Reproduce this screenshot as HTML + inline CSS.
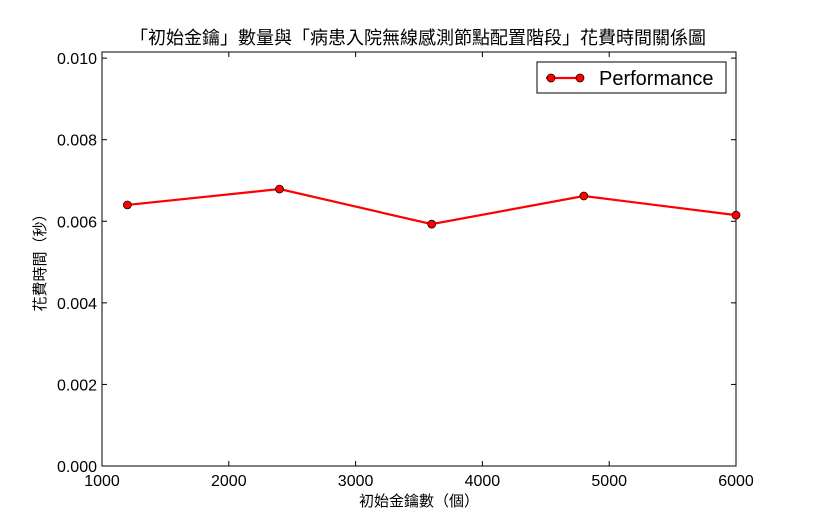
<!DOCTYPE html>
<html><head><meta charset="utf-8"><style>
body{margin:0;background:#fff;}
svg{display:block;font-family:"Liberation Sans","Noto Sans CJK TC",sans-serif;}
</style></head><body>
<svg id="chart" width="817" height="517"></svg>
<script>
const categories=[1200,2400,3600,4800,6000];
const values=[0.0064,0.00679,0.00593,0.00662,0.00615];
const xTicks=[1000,2000,3000,4000,5000,6000];
const yTicks=[0,0.002,0.004,0.006,0.008,0.010];
const yTickLabels=["0.000","0.002","0.004","0.006","0.008","0.010"];
const L=102,R=736,T=52,B=466,xMin=1000,xMax=6000,yMax=0.01015;
const xs=v=>L+(v-xMin)/(xMax-xMin)*(R-L);
const ys=v=>B-v/yMax*(B-T);
const svg=document.getElementById('chart');
const NS='http://www.w3.org/2000/svg';
function mk(t,a,p){const e=document.createElementNS(NS,t);for(const k in a)e.setAttribute(k,a[k]);(p||svg).appendChild(e);return e;}
let e;
e=mk('rect',{x:L,y:T,width:R-L,height:B-T,fill:'#fff',stroke:'#000','stroke-width':1});


xTicks.forEach(v=>{const x=xs(v);
mk('line',{x1:x,x2:x,y1:B,y2:B-5,stroke:'#000'});mk('line',{x1:x,x2:x,y1:T,y2:T+5,stroke:'#000'});
const t=mk('text',{x:x,y:B+20,'text-anchor':'middle','font-size':16,transform:'',textLength:''});t.removeAttribute('transform');t.removeAttribute('textLength');t.textContent=v;

});
yTicks.forEach((v,i)=>{const y=ys(v);
mk('line',{x1:L,x2:L+5,y1:y,y2:y,stroke:'#000'});mk('line',{x1:R,x2:R-5,y1:y,y2:y,stroke:'#000'});
const t=mk('text',{x:L-5,y:y+6,'text-anchor':'end','font-size':16});t.textContent=yTickLabels[i];

});
e=mk('polyline',{points:categories.map((c,i)=>xs(c)+','+ys(values[i])).join(' '),fill:'none',stroke:'#f00','stroke-width':2.2});


categories.forEach((c,i)=>{const p=mk('circle',{cx:xs(c),cy:ys(values[i]),r:4,fill:'#f00',stroke:'#000','stroke-width':0.7});

});
const g=mk('g',{});


mk('rect',{x:537,y:62,width:189,height:31,fill:'#fff',stroke:'#000'},g);
mk('line',{x1:546,x2:580,y1:78,y2:78,stroke:'#f00','stroke-width':2.2},g);
mk('circle',{cx:551,cy:78,r:4,fill:'#f00',stroke:'#000','stroke-width':0.7},g);
mk('circle',{cx:580,cy:78,r:4,fill:'#f00',stroke:'#000','stroke-width':0.7},g);
e=mk('text',{x:599,y:85,'font-size':20},g);e.textContent='Performance';
e=mk('text',{x:418,y:44,'text-anchor':'middle','font-size':18});e.textContent='「初始金鑰」數量與「病患入院無線感測節點配置階段」花費時間關係圖';


e=mk('text',{x:419,y:506,'text-anchor':'middle','font-size':15});e.textContent='初始金鑰數（個）';


e=mk('text',{x:0,y:0,'text-anchor':'middle','font-size':15,transform:'translate(45,259) rotate(-90)'});e.textContent='花費時間（秒）';


</script>
</body></html>
